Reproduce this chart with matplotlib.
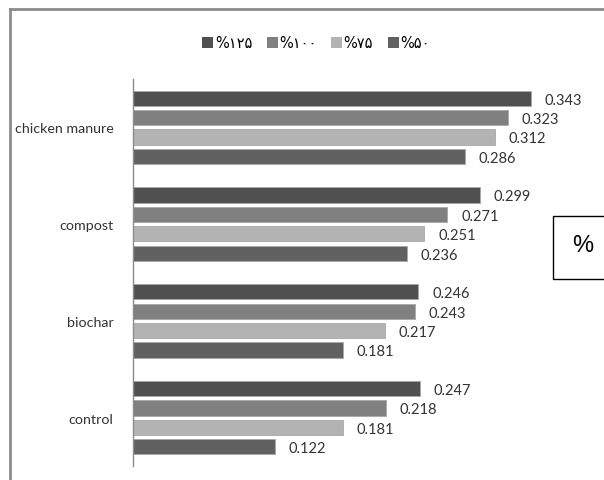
import matplotlib
matplotlib.use("Agg")
import matplotlib.pyplot as plt
from matplotlib.patches import Patch, Rectangle
from matplotlib.lines import Line2D
import numpy as np

categories = ["control", "biochar", "compost", "chicken manure"]
series_names = ["%۱۲۵", "%۱۰۰", "%۷۵", "%۵۰"]
vals_125 = [0.247, 0.246, 0.299, 0.343]
vals_100 = [0.218, 0.243, 0.271, 0.323]
vals_75 = [0.181, 0.217, 0.251, 0.312]
vals_50 = [0.122, 0.181, 0.236, 0.286]
series_values = [vals_125, vals_100, vals_75, vals_50]
colors = ["#505050", "#808080", "#b3b3b3", "#616161"]

W, H = 604, 481
fig = plt.figure(figsize=(W / 100, H / 100), dpi=100)
fig.patch.set_facecolor("white")

ax_l, ax_r, ax_t, ax_b = 133, 597, 80, 467
ax = fig.add_axes([ax_l / W, 1 - ax_b / H, (ax_r - ax_l) / W, (ax_b - ax_t) / H])

label_font = ["Lato", "DejaVu Sans"]
y = np.arange(len(categories))
offsets = [0.3, 0.1, -0.1, -0.3]
for vals, off, col in zip(series_values, offsets, colors):
    bars = ax.barh(y + off, vals, height=0.158, color=col, edgecolor="#a8a8a8", linewidth=0.6)
    for b, v in zip(bars, vals):
        ax.annotate(f"{v:.3f}", (v, b.get_y() + b.get_height() / 2),
                    xytext=(10, -1), textcoords="offset points",
                    ha="left", va="center", fontsize=10.5, color="#333333",
                    family=label_font)

ax.set_xlim(0, 0.4)
ax.set_ylim(-0.5, 3.5)
ax.set_yticks(y)
ax.set_yticklabels(categories, fontsize=10.3, color="#333333", family=label_font)
ax.tick_params(axis="y", length=0, pad=14)
ax.set_xticks([])
for s in ["top", "right", "bottom"]:
    ax.spines[s].set_visible(False)
ax.spines["left"].set_color("#8c8c8c")
ax.spines["left"].set_linewidth(1.0)

# Outer frame (top and left edges)
fig.add_artist(Line2D([9.5 / W, 1.01], [1 - 9.5 / H, 1 - 9.5 / H], transform=fig.transFigure,
                      color="#8c8c8c", linewidth=2.0))
fig.add_artist(Line2D([9.5 / W, 9.5 / W], [1 - 9.5 / H, -0.01], transform=fig.transFigure,
                      color="#8c8c8c", linewidth=2.0))

# % box on the right
fig.add_artist(Rectangle((553 / W, 1 - 280 / H), 60 / W, 63 / H, transform=fig.transFigure,
                         facecolor="white", edgecolor="black", linewidth=1.0))
fig.text(583 / W, 1 - 246 / H, "%", fontsize=17, ha="center", va="center",
         family=["Liberation Sans", "DejaVu Sans"])

handles = [Patch(facecolor=c, edgecolor="none") for c in colors]
fig.legend(handles, series_names, loc="center", bbox_to_anchor=(316 / W, 1 - 44 / H),
           ncol=4, frameon=False, handlelength=0.75, handleheight=0.75,
           handletextpad=0.1, columnspacing=1.0, prop={"family": ["DejaVu Sans"], "size": 10.5})

fig.savefig("out.png", dpi=100, facecolor="white")
